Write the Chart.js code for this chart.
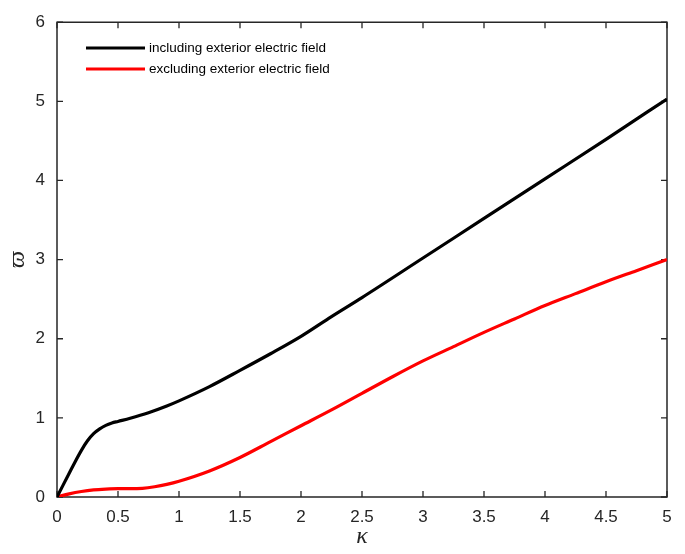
<!DOCTYPE html>
<html>
<head>
<meta charset="utf-8">
<script src="https://cdn.jsdelivr.net/npm/chart.js@4.4.1/dist/chart.umd.min.js"></script>
<style>
html,body{margin:0;padding:0;background:#fff;}
#c{display:block;}
</style>
</head>
<body>
<canvas id="c" width="685" height="554" style="width:685px;height:554px"></canvas>
<script>
// ---- data ----
const seriesLabels = ['including exterior electric field', 'excluding exterior electric field'];
const seriesColors = ['#000000', '#ff0000'];

const kappaIncl = [0, 0.05, 0.1, 0.15, 0.2, 0.25, 0.3, 0.35, 0.4, 0.45, 0.5, 0.6, 0.75, 0.9, 1, 1.25, 1.5, 1.75, 2, 2.25, 2.5, 3, 3.5, 4, 4.5, 5];
const varpiIncl = [0, 0.15, 0.3, 0.45, 0.59, 0.71, 0.8, 0.86, 0.905, 0.935, 0.955, 0.995, 1.065, 1.15, 1.215, 1.395, 1.6, 1.81, 2.03, 2.28, 2.52, 3.02, 3.52, 4.02, 4.52, 5.03];

const kappaExcl = [0, 0.1, 0.2, 0.3, 0.4, 0.5, 0.6, 0.7, 0.8, 0.9, 1, 1.25, 1.5, 1.75, 2, 2.25, 2.5, 2.75, 3, 3.25, 3.5, 3.75, 4, 4.25, 4.5, 4.75, 5];
const varpiExcl = [0, 0.04, 0.07, 0.09, 0.1, 0.105, 0.105, 0.11, 0.13, 0.16, 0.2, 0.33, 0.5, 0.7, 0.9, 1.1, 1.31, 1.52, 1.72, 1.9, 2.08, 2.25, 2.42, 2.57, 2.72, 2.86, 3.0];

const xTickLabels = ['0', '0.5', '1', '1.5', '2', '2.5', '3', '3.5', '4', '4.5', '5'];
const yTickLabels = ['0', '1', '2', '3', '4', '5', '6'];
const xTitle = 'κ';
const yTitle = 'ϖ';

const toPts = (xs, ys) => xs.map((x, i) => ({x: x, y: ys[i]}));

const AX = '#262626';
const tickFont = {family: "'Liberation Sans', Arial, sans-serif", size: 17};

const framePlugin = {
  id: 'frame',
  beforeDatasetsDraw(chart) {
    const {ctx, chartArea: a, scales} = chart;
    ctx.save();
    ctx.strokeStyle = AX;
    ctx.lineWidth = 1.5;
    ctx.beginPath();
    ctx.rect(a.left, a.top, a.right - a.left, a.bottom - a.top);
    ctx.stroke();
    const L = 6;
    ctx.lineWidth = 1.3;
    ctx.beginPath();
    scales.x.ticks.forEach(t => {
      const px = scales.x.getPixelForValue(t.value);
      ctx.moveTo(px, a.bottom); ctx.lineTo(px, a.bottom - L);
      ctx.moveTo(px, a.top); ctx.lineTo(px, a.top + L);
    });
    scales.y.ticks.forEach(t => {
      const py = scales.y.getPixelForValue(t.value);
      ctx.moveTo(a.left, py); ctx.lineTo(a.left + L, py);
      ctx.moveTo(a.right, py); ctx.lineTo(a.right - L, py);
    });
    ctx.stroke();
    ctx.restore();
  },
  afterDatasetsDraw(chart) {
    const {ctx} = chart;
    ctx.save();
    const x0 = 86, x1 = 145, tx = 149;
    const ys = [48, 69];
    chart.data.datasets.forEach((ds, i) => {
      ctx.strokeStyle = ds.borderColor;
      ctx.lineWidth = 3;
      ctx.beginPath();
      ctx.moveTo(x0, ys[i]); ctx.lineTo(x1, ys[i]);
      ctx.stroke();
      ctx.fillStyle = '#000';
      ctx.font = "13.5px 'Liberation Sans', Arial, sans-serif";
      ctx.textBaseline = 'middle';
      ctx.textAlign = 'left';
      ctx.fillText(ds.label, tx, ys[i]);
    });
    ctx.restore();
  }
};

new Chart(document.getElementById('c'), {
  type: 'line',
  data: {
    datasets: [
      {label: seriesLabels[0], data: toPts(kappaIncl, varpiIncl), borderColor: seriesColors[0], borderWidth: 3.2, pointRadius: 0, fill: false, cubicInterpolationMode: 'monotone'},
      {label: seriesLabels[1], data: toPts(kappaExcl, varpiExcl), borderColor: seriesColors[1], borderWidth: 3.2, pointRadius: 0, fill: false, cubicInterpolationMode: 'monotone'}
    ]
  },
  options: {
    responsive: false,
    animation: false,
    devicePixelRatio: 1,
    layout: {padding: {left: 0, top: 15, right: 18, bottom: 0}},
    plugins: {legend: {display: false}, tooltip: {enabled: false}},
    scales: {
      x: {
        type: 'linear', min: 0, max: 5,
        afterFit(s) { s.height = 57; },
        grid: {display: false, drawTicks: false},
        border: {display: false},
        ticks: {stepSize: 0.5, padding: 10, color: AX, font: tickFont, maxRotation: 0, autoSkip: false,
          callback: (v, i) => xTickLabels[i]},
        title: {display: true, text: xTitle, color: AX,
          font: {family: "'Liberation Serif', 'DejaVu Serif', serif", style: 'italic', size: 24},
          padding: {top: 0, bottom: 3}}
      },
      y: {
        type: 'linear', min: 0, max: 6,
        afterFit(s) { s.width = 57; },
        grid: {display: false, drawTicks: false},
        border: {display: false},
        ticks: {stepSize: 1, padding: 12, color: AX, font: tickFont, autoSkip: false,
          callback: (v, i) => yTickLabels[i]},
        title: {display: true, text: yTitle, color: AX,
          font: {family: "'Liberation Serif', 'DejaVu Serif', serif", style: 'italic', size: 24},
          padding: {top: 3, bottom: 0}}
      }
    }
  },
  plugins: [framePlugin]
});
</script>
</body>
</html>
